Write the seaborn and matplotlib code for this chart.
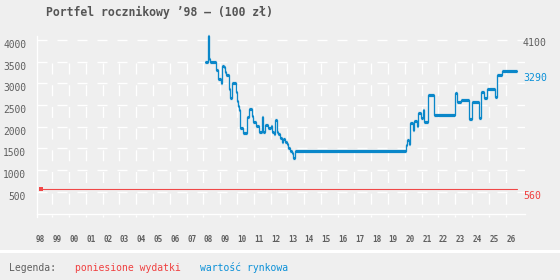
import matplotlib
matplotlib.use("Agg")
import matplotlib.pyplot as plt
import matplotlib.transforms as mtransforms
from matplotlib.patches import Rectangle
import seaborn as sns

# ---------------- data ----------------
title = "Portfel rocznikowy \u201998 \u2013 (100 z\u0142)"
year_ticks = list(range(1998, 2027))
year_labels = ["98", "99", "00", "01", "02", "03", "04", "05", "06", "07", "08",
               "09", "10", "11", "12", "13", "14", "15", "16", "17", "18", "19",
               "20", "21", "22", "23", "24", "25", "26"]
y_ticks = [500, 1000, 1500, 2000, 2500, 3000, 3500, 4000]

# poniesione wydatki (costs incurred)
cost_years = [1998.0, 2026.35]
cost_values = [560, 560]

# wartość rynkowa (market value) - step series
market_years = [2007.79, 2007.95, 2008.00, 2008.05, 2008.09, 2008.45, 2008.58, 2008.73,
                2008.82, 2008.95, 2009.00, 2009.04, 2009.24, 2009.30, 2009.42, 2009.62,
                2009.68, 2009.75, 2009.82, 2009.87, 2010.07, 2010.27, 2010.41, 2010.57,
                2010.67, 2010.83, 2011.02, 2011.17, 2011.26, 2011.36, 2011.56, 2011.70,
                2011.76, 2011.90, 2011.98, 2012.06, 2012.15, 2012.26, 2012.36, 2012.45,
                2012.55, 2012.65, 2012.75, 2012.85, 2012.95, 2013.05, 2013.17, 2019.77,
                2019.83, 2019.95, 2020.02, 2020.19, 2020.23, 2020.43, 2020.49, 2020.63,
                2020.75, 2020.85, 2021.08, 2021.44, 2022.67, 2022.77, 2023.03, 2023.51,
                2023.67, 2024.10, 2024.20, 2024.40, 2024.60, 2025.05, 2025.15, 2025.45,
                2026.35]
market_values = [3490, 4100, 4000, 3560, 3490, 3300, 3100, 3020,
                 3400, 3370, 3260, 3200, 2870, 2660, 3000, 2800,
                 2600, 2480, 2390, 1970, 1850, 2220, 2400, 2250,
                 2120, 2020, 1875, 2230, 1880, 2040, 1965, 2020,
                 1875, 1830, 2160, 1875, 1830, 1735, 1660, 1710,
                 1660, 1600, 1500, 1450, 1390, 1275, 1430, 1580,
                 1690, 1600, 2080, 1930, 2140, 2020, 2310, 2200,
                 2390, 2120, 2740, 2270, 2780, 2570, 2610, 2180,
                 2570, 2200, 2800, 2660, 2870, 2680, 3200, 3290,
                 3290]

right_labels = ["4100", "3290", "560"]
right_values = [4100, 3290, 560]

# ---------------- style ----------------
bg = "#efefef"
gray = "#5f5f5f"
blue_line = "#0a87c9"
blue_text = "#0a90d8"
red_line = "#f04848"
red_text = "#f04040"

sns.set_style("white")
plt.rcParams["font.family"] = ["DejaVu Sans Mono", "DejaVu Sans"]
plt.rcParams["lines.scale_dashes"] = False

PX = 72 / 100.0  # points per pixel at dpi 100

fig = plt.figure(figsize=(5.6, 2.8), dpi=100)
fig.patch.set_facecolor(bg)
ax = fig.add_axes([37 / 560, (280 - 214) / 280, 488 / 560, 178 / 280])
ax.set_facecolor(bg)
ax.set_xlim(1997.79, 2026.84)
ax.set_ylim(-11.5, 4093)

# horizontal dashed grid
ax.set_yticks(y_ticks)
ax.set_yticklabels([str(v) for v in y_ticks])
ax.grid(axis="y", color="white", linewidth=1.3 * PX, linestyle=(0, (10 * PX, 10 * PX)))
ax.grid(axis="x", visible=False)
ax.set_axisbelow(True)

# vertical dashed grid lines
vgrid = [y + 0.69 for y in year_ticks[:-1]]
ax.vlines(vgrid, 3480, -85, colors="white", linewidth=1.3 * PX,
          linestyles=[(0, (11 * PX, 10.7 * PX))], clip_on=False, zorder=0.6)

# ticks
ax.set_xticks(year_ticks)
ax.set_xticklabels(year_labels)
ax.tick_params(axis="x", length=0, pad=15, labelsize=5.5, labelcolor=gray)
ax.tick_params(axis="y", length=0, pad=7.9, labelsize=6.9, labelcolor=gray)
for lab in ax.get_xticklabels():
    lab.set_fontweight("bold")
shift = mtransforms.ScaledTranslation(0, -4 / 100, fig.dpi_scale_trans)
for lab in ax.get_yticklabels():
    lab.set_transform(lab.get_transform() + shift)

# spines
for s in ["top", "right"]:
    ax.spines[s].set_visible(False)
for s in ["left", "bottom"]:
    ax.spines[s].set_color("white")
    ax.spines[s].set_linewidth(1.3 * PX)
ax.spines["left"].set_bounds(-80, 4093)

# cost line
sns.lineplot(x=cost_years, y=cost_values, ax=ax, color=red_line, linewidth=1.1 * PX,
             marker="s", markersize=3.4 * PX, markeredgewidth=0, markevery=[0],
             legend=False, zorder=3)

# market value step line
sns.lineplot(x=market_years, y=market_values, ax=ax, color=blue_line,
             linewidth=1.3 * PX, drawstyle="steps-post", sort=False, estimator=None,
             legend=False, zorder=4, clip_on=False)
ax.hlines(market_values[:-1], market_years[:-1], market_years[1:], colors=blue_line,
          linewidth=3.2 * PX, zorder=4, clip_on=False)

ax.set_xlabel("")
ax.set_ylabel("")

# right side value labels
for txt, val, col in zip(right_labels, right_values, [gray, blue_text, red_text]):
    ax.annotate(txt, xy=(1.0, val), xycoords=ax.get_yaxis_transform(),
                xytext=(-2 * PX, -7 * PX), textcoords="offset points",
                ha="left", va="center", fontsize=7.1, color=col, annotation_clip=False)

# title
fig.text(46 / 560, 1 - 12.5 / 280, title, fontsize=8.3, fontweight="bold",
         color="#555555", ha="left", va="center")

# white separator band
fig.add_artist(Rectangle((0, (280 - 253.3) / 280), 1, 3.3 / 280,
                         transform=fig.transFigure, facecolor="white",
                         edgecolor="none", zorder=0))

# legend text
ly = 1 - 267.7 / 280
fig.text(9.3 / 560, ly, "Legenda:", fontsize=7, color=gray, ha="left", va="center")
fig.text(75 / 560, ly, "poniesione wydatki", fontsize=7, color=red_text, ha="left", va="center")
fig.text(200 / 560, ly, "warto\u015b\u0107 rynkowa", fontsize=7, color=blue_text, ha="left", va="center")

fig.savefig("out.png", dpi=100, facecolor=bg)
